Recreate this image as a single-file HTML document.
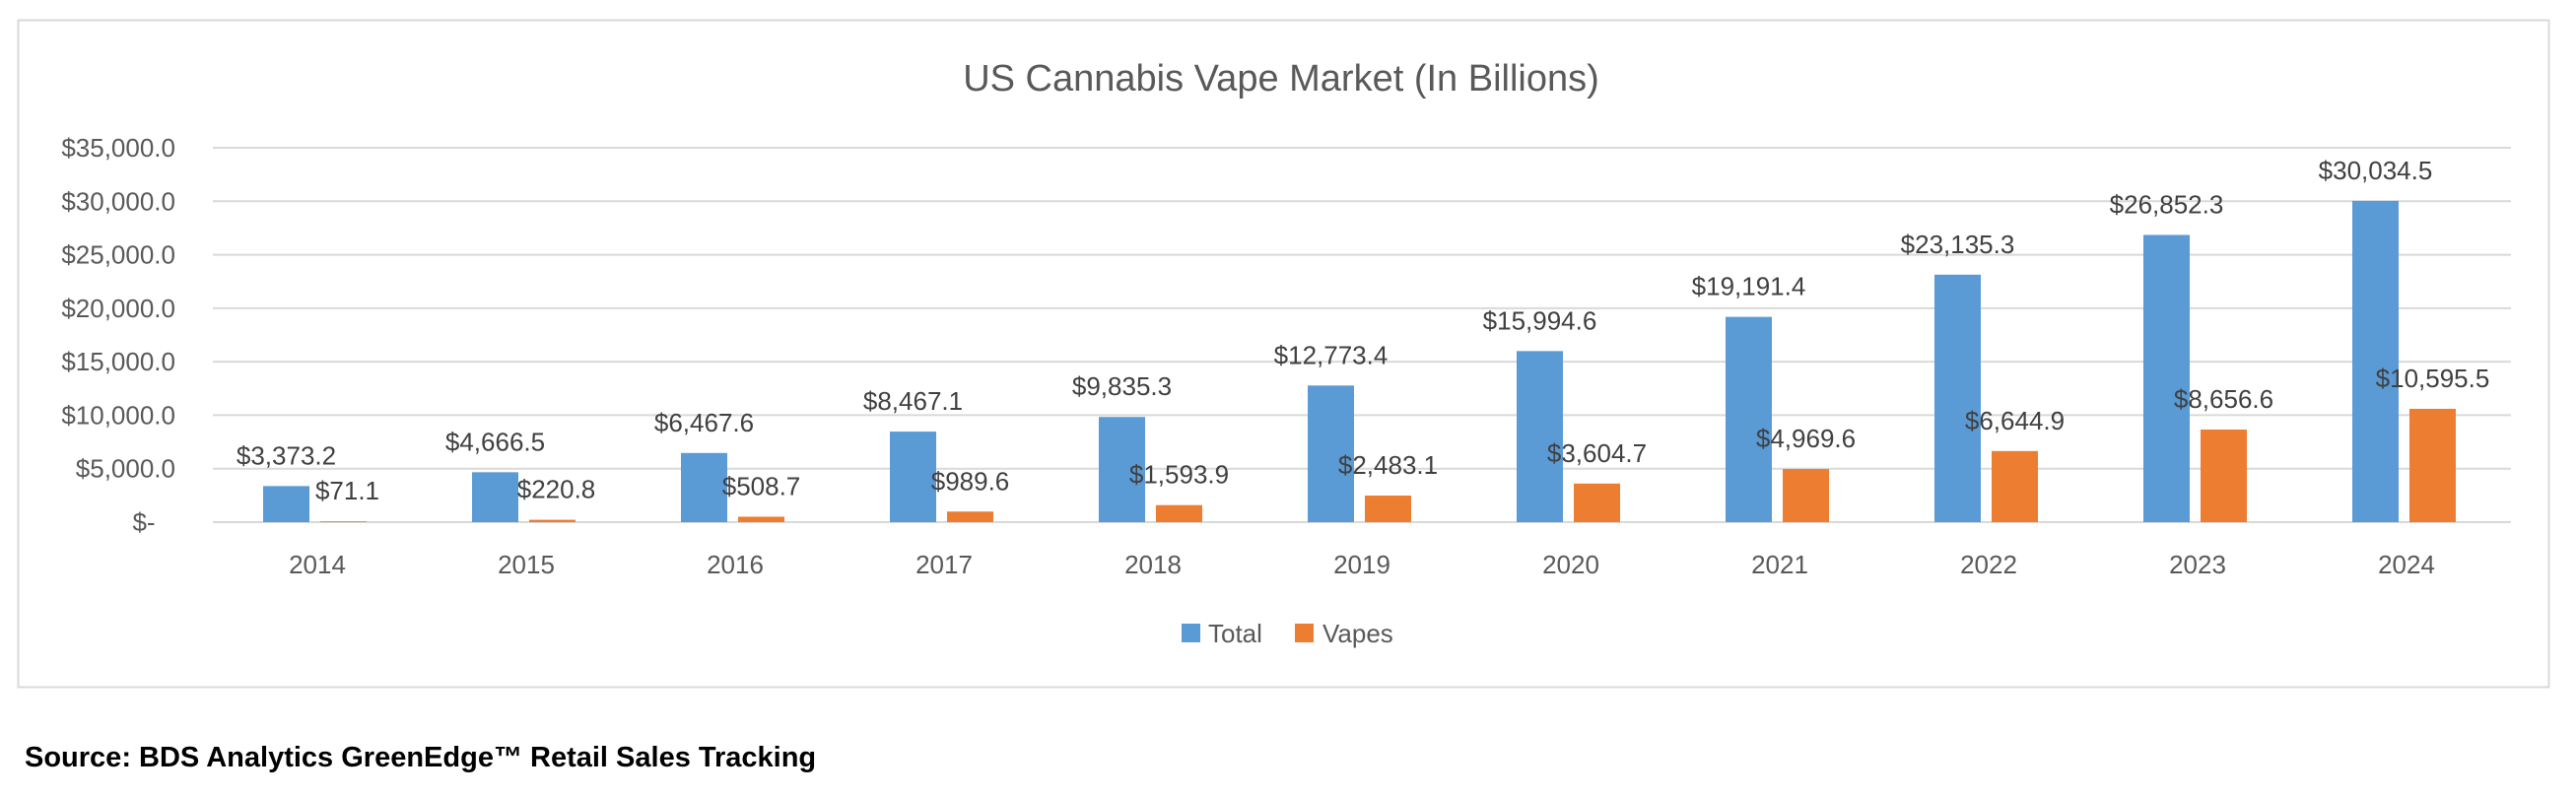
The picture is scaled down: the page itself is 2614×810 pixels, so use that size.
<!DOCTYPE html>
<html><head><meta charset="utf-8"><style>
body{margin:0;background:#fff;}
svg{display:block;font-family:"Liberation Sans",sans-serif;}
</style></head><body>
<svg id="chart" width="2614" height="810" xmlns="http://www.w3.org/2000/svg">
<rect x="18.5" y="20.5" width="2568" height="677" fill="#fff" stroke="#d9d9d9" stroke-width="2"/>
<text x="1300" y="92" text-anchor="middle" font-size="38" fill="#595959">US Cannabis Vape Market (In Billions)</text>
<g id="grid"></g>
<g id="yaxis"></g>
<g id="xaxis"></g>
<g id="bars"></g>
<g id="labels"></g>
<g>
<rect x="1199" y="633" width="19" height="19" fill="#5b9bd5"/>
<text x="1226" y="652" font-size="26" fill="#595959">Total</text>
<rect x="1314" y="633" width="19" height="19" fill="#ed7d31"/>
<text x="1342" y="652" font-size="26" fill="#595959">Vapes</text>
</g>
<text x="25" y="778" font-size="29" font-weight="bold" fill="#000">Source: BDS Analytics GreenEdge™ Retail Sales Tracking</text>
</svg>
<script>
const categories = ["2014","2015","2016","2017","2018","2019","2020","2021","2022","2023","2024"];
const totalValues = [3373.2,4666.5,6467.6,8467.1,9835.3,12773.4,15994.6,19191.4,23135.3,26852.3,30034.5];
const vapesValues = [71.1,220.8,508.7,989.6,1593.9,2483.1,3604.7,4969.6,6644.9,8656.6,10595.5];
const yTicks = [0,5000,10000,15000,20000,25000,30000,35000];
const yTickLabels = ["$-","$5,000.0","$10,000.0","$15,000.0","$20,000.0","$25,000.0","$30,000.0","$35,000.0"];

const NS="http://www.w3.org/2000/svg";
const plotL=216, plotR=2548, y0=530, yTop=150, yMax=35000;
const step=(plotR-plotL)/categories.length;
function yScale(v){return y0-(v/yMax)*(y0-yTop);}
function xCenter(i){return plotL+step*(i+0.5);}
function mk(tag,attrs,parent){const e=document.createElementNS(NS,tag);for(const k in attrs)e.setAttribute(k,attrs[k]);parent.appendChild(e);return e;}
function fmt(v){return "$"+v.toLocaleString("en-US",{minimumFractionDigits:1,maximumFractionDigits:1});}
const grid=document.getElementById('grid'),ya=document.getElementById('yaxis'),xa=document.getElementById('xaxis'),bars=document.getElementById('bars'),labels=document.getElementById('labels');
yTicks.forEach((t,i)=>{
  const l=mk('line',{x1:plotL,x2:plotR,y1:yScale(t),y2:yScale(t),stroke:'#d9d9d9','stroke-width':2},grid);
  
  
  const tx=mk('text',{x:i===0?146:178,y:yScale(t)+9,'text-anchor':i===0?'middle':'end','font-size':26,fill:'#595959'},ya);
  tx.textContent=yTickLabels[i];
  
  
});
categories.forEach((c,i)=>{
  const cx=xCenter(i);
  const t=mk('text',{x:cx,y:582,'text-anchor':'middle','font-size':26,fill:'#595959'},xa);
  t.textContent=c;
  
  
  const bx=cx-55, ox=cx+3, w=47;
  const b1=mk('rect',{x:bx,y:yScale(totalValues[i]),width:w,height:y0-yScale(totalValues[i]),fill:'#5b9bd5'},bars);
  
  
  const b2=mk('rect',{x:ox,y:yScale(vapesValues[i]),width:w,height:y0-yScale(vapesValues[i]),fill:'#ed7d31'},bars);
  
  
  const l1=mk('text',{x:bx+w/2,y:yScale(totalValues[i])-22,'text-anchor':'middle','font-size':26,fill:'#404040'},labels);
  l1.textContent=fmt(totalValues[i]);
  
  
  const vy=Math.min(yScale(vapesValues[i])-22, 507);
  const l2=mk('text',{x:ox+w/2+(i<2?4:0),y:vy,'text-anchor':'middle','font-size':26,fill:'#404040'},labels);
  l2.textContent=fmt(vapesValues[i]);
  
  
});
</script>
</body></html>
